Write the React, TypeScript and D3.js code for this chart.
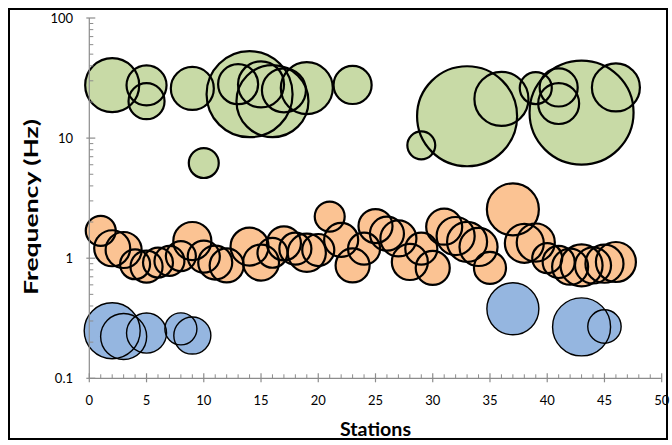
import React from "react";
import * as d3 from "d3";

// ---- data ----
const greenStation = [2, 5, 5, 9, 10, 13, 14, 15, 16, 17, 19, 23, 29, 33, 36, 39, 41, 41, 43, 46];
const greenFreq = [27.6, 27.5, 20.3, 25.9, 6.2, 28.1, 23.2, 28, 20.3, 25, 26.1, 27.7, 8.7, 15.2, 21.2, 26.1, 26.4, 19.4, 16.3, 26.4];
const greenSize = [27, 14.8, 12, 17.1, 8.3, 14.8, 68.4, 19.6, 47.9, 17.9, 25, 13.4, 7.2, 92.5, 27, 9.5, 13.4, 15.5, 100, 21.3];

const orangeStation = [1, 2, 3, 4, 5, 6, 7, 8, 9, 10, 11, 12, 14, 15, 16, 17, 18, 19, 20, 21, 22, 23, 24, 25, 26, 27, 28, 29, 30, 31, 32, 33, 34, 35, 37, 38, 39, 40, 41, 42, 43, 44, 45, 46];
const orangeFreq = [1.69, 1.21, 1.17, 0.89, 0.85, 0.92, 0.95, 1.04, 1.39, 1.03, 0.92, 0.87, 1.25, 0.92, 1.11, 1.33, 1.2, 1.11, 1.17, 2.22, 1.42, 0.87, 1.2, 1.85, 1.6, 1.46, 0.93, 1.2, 0.83, 1.83, 1.53, 1.37, 1.24, 0.83, 2.55, 1.33, 1.35, 1.0, 0.93, 0.85, 0.87, 0.87, 0.9, 0.93];
const orangeSize = [8.3, 12, 12, 8.3, 9.5, 8.3, 8.3, 8.3, 13.4, 9.5, 10.7, 10.7, 13.4, 12, 8.3, 10.7, 9.5, 13.4, 9.5, 8.3, 10.7, 10.7, 9.5, 10.7, 10.7, 12, 12, 9.5, 10.7, 12, 13.4, 14.8, 13.4, 9.5, 25, 14, 13.4, 8.3, 9.5, 12, 16.3, 12, 13.4, 14.8];

const blueStation = [2, 3, 5, 8, 9, 37, 43, 45];
const blueFreq = [0.249, 0.223, 0.238, 0.258, 0.227, 0.379, 0.268, 0.27];
const blueSize = [29, 19.6, 14.8, 9.5, 12.7, 25, 31.1, 10.3];

const xTicks = [0, 5, 10, 15, 20, 25, 30, 35, 40, 45, 50];
const yTicks = [0.1, 1, 10, 100];
const yTickLabels = ["0.1", "1", "10", "100"];

const xTitle = "Stations";
const yTitle = "Frequency (Hz)";

const FONT = "Lato, 'Open Sans', sans-serif";

export default function App() {
  const W = 672, H = 445;
  const x0 = 89.3, x1 = 661.7, yTop = 18, yBot = 378.3;
  const x = d3.scaleLinear().domain([0, 50]).range([x0, x1]);
  const y = d3.scaleLog().domain([0.1, 100]).range([yBot, yTop]);
  const r = d3.scaleSqrt().domain([0, 100]).range([0, 52]);

  const minorY: number[] = [];
  for (let dec = 0.1; dec < 100; dec *= 10) {
    for (let k = 2; k <= 9; k++) minorY.push(+(dec * k).toPrecision(3));
  }
  const minorX = d3.range(0, 51).filter((v) => v % 5 !== 0);

  const series = [
    { st: blueStation, f: blueFreq, s: blueSize, fill: "#95b6e0", sw: 1.4 },
    { st: orangeStation, f: orangeFreq, s: orangeSize, fill: "#fbc393", sw: 2.2 },
    { st: greenStation, f: greenFreq, s: greenSize, fill: "#c8daa6", sw: 2.2 },
  ];

  const axisColor = "#8c8c8c";

  return (
    <svg width={W} height={H} style={{ position: "absolute", left: 0, top: 0, background: "#fff" }}>
      <rect x={0} y={0} width={W} height={H} fill="#fff" />
      <rect x={9} y={9} width={658} height={430} fill="none" stroke="#000" strokeWidth={2} />

      {/* bubbles */}
      {series.map((se, si) => (
        <g key={si}>
          {se.st.map((s, i) => (
            <circle key={"f" + i} cx={x(s)} cy={y(se.f[i])} r={r(se.s[i])} fill={se.fill} stroke="none" />
          ))}
          {se.st.map((s, i) => (
            <circle key={"s" + i} cx={x(s)} cy={y(se.f[i])} r={r(se.s[i])} fill="none" stroke="#000" strokeWidth={se.sw} />
          ))}
        </g>
      ))}

      {/* y axis */}
      <line x1={x0} x2={x0} y1={yTop} y2={yBot} stroke={axisColor} strokeWidth={1.2} />
      {minorY.map((v, i) => (
        <line key={"my" + i} x1={x0} x2={x0 + 4} y1={y(v)} y2={y(v)} stroke={axisColor} strokeWidth={1} />
      ))}
      {yTicks.map((v, i) => (
        <g key={"yt" + i}>
          <line x1={x0 - 3} x2={x0 + 6} y1={y(v)} y2={y(v)} stroke={axisColor} strokeWidth={1.2} />
          <text x={73} y={y(v)} dy="0.35em" textAnchor="end" fontFamily={FONT} fontSize={13} fill="#000">
            {yTickLabels[i]}
          </text>
        </g>
      ))}

      {/* x axis */}
      <line x1={x0} x2={x1} y1={yBot} y2={yBot} stroke={axisColor} strokeWidth={1.2} />
      {minorX.map((v, i) => (
        <line key={"mx" + i} x1={x(v)} x2={x(v)} y1={yBot - 4} y2={yBot} stroke={axisColor} strokeWidth={1} />
      ))}
      {xTicks.map((v, i) => (
        <g key={"xt" + i}>
          <line x1={x(v)} x2={x(v)} y1={yBot - 5} y2={yBot + 4} stroke={axisColor} strokeWidth={1.2} />
          <text x={x(v)} y={405} textAnchor="middle" fontFamily={FONT} fontSize={13} fill="#000">
            {v}
          </text>
        </g>
      ))}

      {/* titles */}
      <text x={375.5} y={436} textAnchor="middle" fontFamily={FONT} fontWeight="bold" fontSize={18}
        textLength={71} lengthAdjust="spacingAndGlyphs" fill="#000">
        {xTitle}
      </text>
      <text
        transform={`translate(38, 207) rotate(-90)`}
        textAnchor="middle"
        fontFamily={FONT}
        fontWeight="bold"
        fontSize={18}
        textLength={176}
        lengthAdjust="spacingAndGlyphs"
        fill="#000"
      >
        {yTitle}
      </text>
    </svg>
  );
}
